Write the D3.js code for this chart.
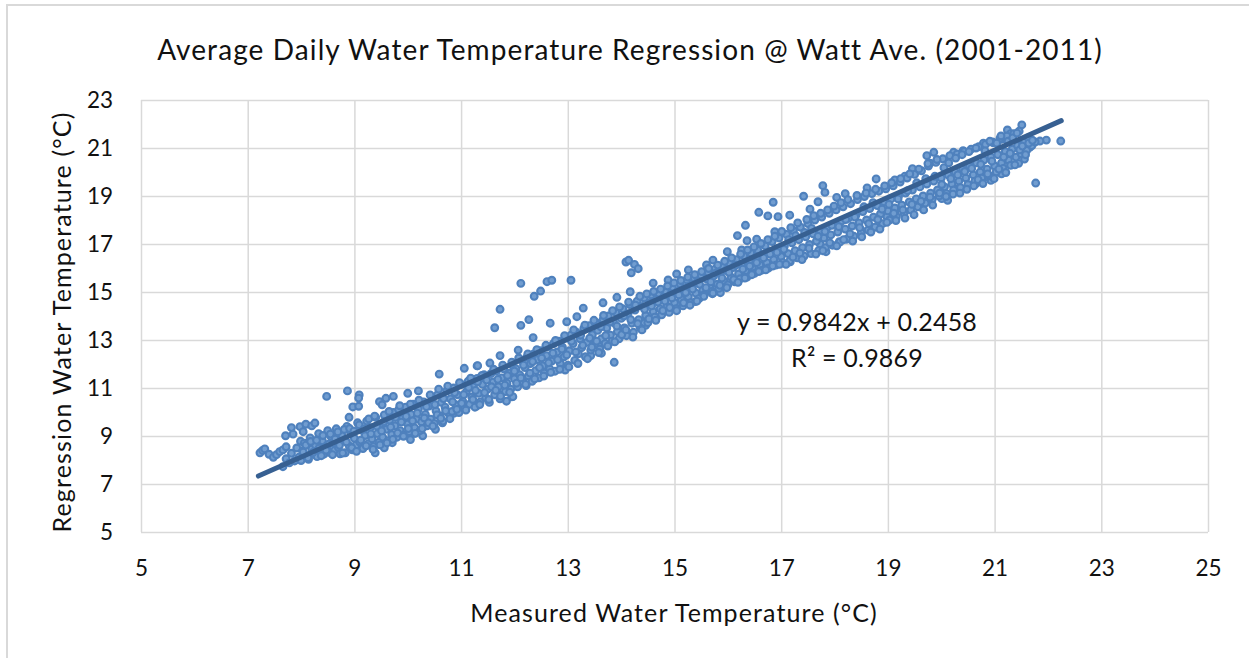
<!DOCTYPE html>
<html lang="en">
<head>
<meta charset="UTF-8">
<title>Average Daily Water Temperature Regression</title>
<script src="https://d3js.org/d3.v7.min.js"></script>
<style>
    body { margin: 0; background: #fff; overflow: hidden; }
    text { font-family: Lato, sans-serif; fill: #111; }
    .grid line { stroke: #d9d9d9; stroke-width: 1.5px; }
    .grid path { display: none; }
    .labels path, .labels line { display: none; }
    .labels text { font-family: Lato, sans-serif; font-size: 22.5px; fill: #111; }
</style>
</head>
<body>
<div id="chart"></div>
<script>
    const chartTitle = "Average Daily Water Temperature Regression @ Watt Ave. (2001-2011)";
    const xTitle = "Measured Water Temperature (°C)";
    const yTitle = "Regression Water Temperature (°C)";
    const fitLabels = ["y = 0.9842x + 0.2458", "R² = 0.9869"];

    const xTicks = [5, 7, 9, 11, 13, 15, 17, 19, 21, 23, 25];
    const yTicks = [5, 7, 9, 11, 13, 15, 17, 19, 21, 23];

    // ends of the fitted line
    const fitLine = [[7.2, 7.33], [22.25, 22.14]];

    // points that stand clear of the band, read one by one
    const strayPoints = [
        [7.23,8.30],[7.28,8.40],[7.32,8.46],[7.4,8.24],[7.48,8.11],[7.54,8.22],[7.6,8.35],[7.66,8.42],[7.72,8.55],
        [7.71,9.01],[7.82,9.35],[7.85,9.08],[7.98,9.39],[8.09,9.49],[8.04,9.18],[7.99,8.78],[8.2,9.42],[8.26,9.54],
        [8.48,10.65],[8.87,10.88],[9.09,10.71],[9.08,10.58],[8.97,10.21],[9.08,10.24],[8.9,9.78],[9.47,10.43],
        [9.59,10.57],[9.73,10.65],[9.52,10.3],[10,10.78],[10.2,10.88],[10.59,11.58],[11.06,11.82],[11.3,11.92],
        [9.39,8.30],[9.56,8.51],[9.71,8.72],[10.05,8.85],[10.12,9.11],[10.28,9.01],[10.52,9.28],[10.65,9.55],
        [10.87,9.95],[11.29,10.25],[11.95,10.63],[11.7,10.75],[11.85,10.45],
        [12.12,15.36],[11.73,14.28],[11.63,13.51],[12.12,13.61],[12.27,13.85],[12.37,14.82],[12.49,15.04],
        [12.61,15.43],[12.7,15.49],[13.06,15.49],[14.09,16.25],[14.14,16.32],[14.25,16.15],[14.32,15.97],[14.19,15.8],
        [12.22,11.1],[13.87,12.07],[13.43,12.35],[13.63,12.45],[14.46,13.61],[14.66,13.94],[15.39,14.6],[15.71,14.93],
        [15.86,14.97],[15.95,15.21],[16.33,17.78],[16.18,17.35],[16.58,18.32],[16.75,18.17],[16.85,18.74],
        [15.99,16.68],[16.36,17.14],[17.42,18.99],[17.78,19.43],[17.82,19.15],[17.84,16.68],[18.84,17.67],[18.78,19.71],
        [19.46,20.14],[19.73,20.68],[19.86,20.82],[19.32,18.35],[19.58,18.62],[20.12,18.82],[20.01,18.89],[20.28,19.28],
        [20.64,19.5],[20.93,19.65],[21.13,19.92],[21.22,20.36],[21.45,20.36],[21.56,20.54],[21.77,19.54],[22.24,21.29],
        [21.97,21.33],[21.85,21.29],[21.66,21.03],[21.51,21.96],[21.24,21.75],[21.3,21.6],[21.13,21.36],[20.79,21.2],[20.23,20.82]
    ];

    // points along the upper and lower edge of the band
    const edgePoints = [
        [11.31,11.93],[11.54,12.04],[11.73,12.35],[12.07,12.58],[12.35,13.1],[12.67,13.7],[12.98,13.76],[13.17,13.97],[13.29,14.33],
        [13.66,14.55],[13.92,14.78],[14.17,15.01],[14.6,15.37],[14.88,15.5],[15.04,15.75],[15.26,15.92],[15.6,16.13],[15.72,16.33],
        [16.26,16.75],[16.54,17.2],[16.88,17.51],[16.94,18.14],[17.16,18.2],[17.54,18.45],[17.69,18.76],[18.04,18.94],[18.2,19.1],
        [18.61,19.34],[19.13,19.67],[19.32,19.83],[19.79,20.37],[20.41,20.89],[20.97,21.22],
        [11.97,10.64],[12.57,11.68],[12.95,11.75],[13.6,12.72],[13.98,13.14],[14.41,13.7],[15.1,14.53],[15.54,14.96],[16.1,15.5],
        [16.29,15.62],[16.79,16.12],[17.17,16.26],[17.37,16.47],[17.73,17.0],[18.09,17.1],[18.5,17.58],[18.98,18.14],[19.13,18.35],
        [19.79,18.9],[20.85,19.8]
    ];

    // the dense band along the line, estimated strip by strip
    const bandPoints = [
        [7.66,7.72],[7.72,8.05],[7.78,7.88],[7.82,8.28],[7.88,7.96],[7.92,8.5],[7.96,8.12],[8.0,7.98],[8.03,8.38],[8.06,8.7],
        [8.1,8.18],[8.14,8.03],[8.17,8.92],[8.2,8.45],[8.24,8.24],[8.27,8.62],[8.3,8.14],[8.33,9.1],[8.36,8.36],[8.4,8.8],
        [8.43,8.25],[8.46,8.55],[8.5,9.22],[8.53,8.32],[8.56,8.98],[8.6,8.7],[8.63,8.4],[8.66,9.3],[8.7,8.52],[8.73,8.26],
        [8.76,9.05],[8.8,8.8],[8.83,8.3],[8.86,9.4],[8.9,8.6],[8.93,9.15],[8.96,8.42],[9.0,8.9],[9.03,8.62],[9.06,9.55],
        [9.1,8.75],[9.13,9.25],[9.16,8.48],[9.2,9.02],[9.23,9.62],[9.26,8.68],[9.3,9.35],[9.33,8.88],[9.36,8.56],[9.4,9.78],
        [9.43,9.1],[9.46,8.74],[9.5,9.5],[9.53,8.95],[9.56,9.88],[9.6,9.28],[9.63,8.8],[9.66,9.66],[9.7,9.06],[9.73,9.98],
        [9.76,9.42],[9.8,8.95],[9.83,10.1],[9.86,9.22],[9.9,9.72],[9.93,9.05],[9.96,10.2],[10.0,9.5],[10.03,9.18],[10.06,9.9],
        [10.1,10.32],[10.13,9.34],[10.16,9.7],[10.2,10.12],[10.23,9.22],[10.26,9.58],[10.3,10.42],[10.33,9.9],[10.36,9.42],
        [10.4,10.25],[10.43,9.7],[10.46,10.6],[10.5,9.52],[10.53,10.05],[10.56,10.72],[10.6,9.85],[10.63,10.4],[10.66,9.62],
        [10.7,10.2],[10.73,10.88],[10.76,9.95],[10.8,10.55],[10.83,10.02],[10.86,11.0],[10.9,10.3],[10.93,10.72],[10.96,9.98],
        [11.0,11.15],[11.03,10.45],[11.06,10.15],[11.1,10.85],[11.13,11.28],[11.16,10.32],[11.2,10.62],[11.23,11.05],[11.26,10.2],
        [11.3,11.4],[11.33,10.78],[11.36,10.42],[11.4,11.15],[11.43,11.55],[11.46,10.6],[11.5,10.95],[11.53,10.4],[11.56,11.6],
        [11.6,11.25],[11.63,10.72],[11.66,11.7],[11.7,11.05],[11.73,10.55],[11.76,11.42],[11.8,11.8],[11.83,10.85],[11.86,11.2],
        [11.9,11.62],[11.93,10.95],[11.96,11.95],[12.0,11.38],[12.03,11.8],[12.06,11.05],[12.1,11.55],[12.13,12.15],[12.16,11.25],
        [12.2,11.85],[12.23,12.28],[12.26,11.5],[12.3,12.02],[12.33,11.28],[12.36,12.42],[12.4,11.72],[12.43,12.18],[12.46,11.42],
        [12.5,12.55],[12.53,11.92],[12.56,11.62],[12.6,12.35],[12.63,12.72],[12.66,11.8],[12.7,12.12],[12.73,12.85],[12.76,11.7],
        [12.8,12.5],[12.83,12.95],[12.86,12.02],[12.9,12.7],[12.93,12.3],[12.96,13.08],[13.0,11.95],[13.03,12.55],[13.06,13.2],
        [13.1,12.85],[13.13,12.15],[13.16,13.32],[13.2,12.42],[13.23,13.05],[13.26,12.68],[13.3,13.48],[13.33,12.3],[13.36,12.9],
        [13.4,13.6],[13.43,12.58],[13.46,13.22],[13.5,12.8],[13.53,13.72],[13.56,13.4],[13.6,12.62],[13.63,13.05],[13.66,13.85],
        [13.7,12.85],[13.73,13.5],[13.76,14.0],[13.8,13.2],[13.83,12.95],[13.86,13.72],[13.9,14.15],[13.93,13.35],[13.96,13.05],
        [14.0,13.9],[14.03,14.3],[14.06,13.5],[14.1,13.18],[14.13,14.1],[14.16,14.48],[14.2,13.7],[14.23,13.32],[14.26,14.25],
        [14.3,14.62],[14.33,13.85],[14.36,13.5],[14.4,14.4],[14.43,14.75],[14.46,14.02],[14.5,13.72],[14.53,14.55],[14.56,14.88],
        [14.6,14.18],[14.63,13.95],[14.66,14.68],[14.7,14.95],[14.73,14.3],[14.76,14.05],[14.8,14.8],[14.83,15.05],[14.86,14.42],
        [14.9,14.15],[14.93,14.9],[14.96,15.2],[15.0,14.55],[15.03,14.3],[15.06,15.02],[15.1,15.35],[15.13,14.68],[15.16,14.42],
        [15.2,15.15],[15.23,15.5],[15.26,14.8],[15.3,14.55],[15.33,15.28],[15.36,15.6],[15.4,14.95],[15.43,15.4],[15.46,14.72],
        [15.5,15.7],[15.53,15.08],[15.56,14.9],[15.6,15.55],[15.63,15.82],[15.66,15.2],[15.7,15.02],[15.73,15.66],[15.76,15.95],
        [15.8,15.32],[15.83,15.15],[15.86,15.78],[15.9,16.08],[15.93,15.45],[15.96,15.9],[16.0,15.3],[16.03,16.2],[16.06,15.62],
        [16.1,16.02],[16.13,15.42],[16.16,16.35],[16.2,15.75],[16.23,15.55],[16.26,16.15],[16.3,16.5],[16.33,15.88],[16.36,15.62],
        [16.4,16.28],[16.43,16.62],[16.46,16.0],[16.5,15.78],[16.53,16.42],[16.56,16.75],[16.6,16.12],[16.63,15.9],[16.66,16.55],
        [16.7,16.92],[16.73,16.22],[16.76,16.0],[16.8,16.68],[16.83,17.1],[16.86,16.35],[16.9,16.12],[16.93,16.8],[16.96,17.25],
        [17.0,16.48],[17.03,16.22],[17.06,16.92],[17.1,17.4],[17.13,16.6],[17.16,16.3],[17.2,17.05],[17.23,17.55],[17.26,16.72],
        [17.3,16.42],[17.33,17.18],[17.36,17.7],[17.4,16.85],[17.43,16.5],[17.46,17.3],[17.5,17.85],[17.53,16.98],[17.56,16.6],
        [17.6,17.42],[17.63,18.0],[17.66,17.12],[17.7,16.72],[17.73,17.55],[17.76,18.12],[17.8,17.25],[17.83,16.85],[17.86,17.68],
        [17.9,18.28],[17.93,17.38],[17.96,16.95],[18.0,17.82],[18.03,18.42],[18.06,17.5],[18.1,17.08],[18.13,17.95],[18.16,18.55],
        [18.2,17.62],[18.23,17.2],[18.26,18.08],[18.3,18.68],[18.33,17.75],[18.36,17.32],[18.4,18.2],[18.43,18.85],[18.46,17.88],
        [18.5,17.45],[18.53,18.35],[18.56,18.98],[18.6,18.0],[18.63,17.58],[18.66,18.48],[18.7,19.1],[18.73,18.12],[18.76,17.7],
        [18.8,18.6],[18.83,19.2],[18.86,18.25],[18.9,17.85],[18.93,18.75],[18.96,19.3],[19.0,18.38],[19.03,18.0],[19.06,18.88],
        [19.1,19.42],[19.13,18.5],[19.16,18.15],[19.2,19.0],[19.23,19.58],[19.26,18.62],[19.3,18.28],[19.33,19.12],[19.36,19.75],
        [19.4,18.75],[19.43,18.42],[19.46,19.25],[19.5,19.9],[19.53,18.88],[19.56,18.55],[19.6,19.38],[19.63,20.05],[19.66,19.0],
        [19.7,18.7],[19.73,19.5],[19.76,20.25],[19.8,19.12],[19.83,18.85],[19.86,19.62],[19.9,20.4],[19.93,19.25],[19.96,19.0],
        [20.0,19.75],[20.03,20.55],[20.06,19.38],[20.1,19.1],[20.13,19.88],[20.16,20.68],[20.2,19.5],[20.23,19.25],[20.26,20.0],
        [20.3,20.75],[20.33,19.62],[20.36,19.35],[20.4,20.12],[20.43,20.85],[20.46,19.75],[20.5,19.48],[20.53,20.25],[20.56,20.95],
        [20.6,19.88],[20.63,19.62],[20.66,20.38],[20.7,21.05],[20.73,20.0],[20.76,19.75],[20.8,20.5],[20.83,21.15],[20.86,20.12],
        [20.9,19.85],[20.93,20.62],[20.96,21.25],[21.0,20.25],[21.03,20.0],[21.06,20.72],[21.1,21.4],[21.13,20.38],[21.16,20.15],
        [21.2,20.85],[21.23,21.5],[21.26,20.5],[21.3,20.28],[21.33,20.95],[21.36,21.6],[21.4,20.62],[21.43,21.1],[21.46,21.7],
        [21.5,20.75],[21.53,21.2],[21.56,21.3],[21.6,20.9],[21.63,21.42],[21.7,21.1],[21.76,21.25]
    ];

    // second pass over the band, the uneven scatter and the bumps on its edges
    const bandScatter = [
        [8.04,8.33],[8.09,8.62],[8.13,8.09],[8.18,8.77],[8.22,8.31],[8.29,8.82],[8.34,8.5],[8.38,8.18],[8.41,9.02],[8.47,8.41],
        [8.52,8.66],[8.55,9.08],[8.59,8.22],[8.64,8.87],[8.69,9.17],[8.72,8.61],[8.78,8.29],[8.81,9.27],[8.85,8.75],[8.91,9.31],
        [8.95,8.51],[8.99,9.2],[9.04,8.36],[9.09,9.46],[9.12,8.83],[9.18,9.3],[9.22,8.59],[9.27,9.71],[9.31,9.09],[9.35,8.44],
        [9.38,9.83],[9.42,9.41],[9.48,8.63],[9.51,9.21],[9.55,9.59],[9.61,8.71],[9.65,10.02],[9.68,9.37],[9.72,8.86],[9.77,9.77],
        [9.81,9.12],[9.85,10.26],[9.88,9.58],[9.92,8.99],[9.97,9.82],[10.01,9.31],[10.05,10.33],[10.09,9.63],[10.14,9.11],[10.18,9.95],
        [10.21,10.49],[10.27,9.31],[10.31,9.75],[10.35,10.22],[10.39,9.55],[10.42,10.71],[10.47,9.41],[10.51,10.31],[10.55,9.88],[10.58,10.95],
        [10.62,9.74],[10.67,10.56],[10.71,10.05],[10.75,11.08],[10.79,9.72],[10.84,10.42],[10.88,10.81],[10.92,10.11],[10.97,11.22],[11.01,10.36],
        [11.05,10.72],[11.09,10.08],[11.14,11.02],[11.18,11.41],[11.22,10.52],[11.27,10.9],[11.31,11.26],[11.35,10.31],[11.39,11.52],[11.44,10.81],
        [11.48,11.33],[11.52,10.52],[11.57,11.05],[11.61,11.78],[11.65,10.9],[11.69,11.36],[11.74,10.66],[11.78,11.95],[11.82,11.12],[11.87,11.52],
        [11.91,10.82],[11.95,12.08],[12.0,11.7],[12.04,11.2],[12.08,12.25],[12.12,11.42],[12.17,11.95],[12.21,11.15],[12.25,12.42],[12.29,11.62],
        [12.34,12.1],[12.38,11.38],[12.42,12.6],[12.47,11.85],[12.51,12.25],[12.55,11.5],[12.59,12.78],[12.64,12.05],[12.68,11.65],[12.72,12.45],
        [12.77,12.98],[12.81,12.18],[12.85,11.78],[12.89,12.62],[12.94,13.18],[12.98,12.38],[13.02,11.88],[13.07,12.95],[13.11,13.42],[13.15,12.5],
        [13.19,12.02],[13.24,13.2],[13.28,12.78],[13.32,13.62],[13.37,12.22],[13.41,13.08],[13.45,12.7],[13.49,13.82],[13.54,12.95],[13.58,12.48],
        [13.62,13.55],[13.67,14.02],[13.71,13.18],[13.75,12.75],[13.79,13.75],[13.84,14.22],[13.88,12.92],[13.92,13.58],[13.97,14.38],[14.01,13.22],
        [14.05,14.0],[14.09,13.42],[14.14,14.58],[14.18,13.85],[14.22,13.12],[14.27,14.45],[14.31,13.68],[14.35,14.82],[14.39,13.42],[14.44,14.28],
        [14.48,14.92],[14.52,13.88],[14.57,14.42],[14.61,15.02],[14.65,13.82],[14.69,14.58],[14.74,15.12],[14.78,14.22],[14.82,14.62],[14.87,15.25],
        [14.91,14.35],[14.95,14.75],[14.99,15.38],[15.04,14.22],[15.08,14.88],[15.12,15.48],[15.17,14.55],[15.21,14.98],[15.25,15.62],[15.29,14.45],
        [15.34,15.12],[15.38,15.72],[15.42,14.62],[15.47,15.32],[15.51,15.85],[15.55,14.82],[15.59,15.18],[15.64,15.98],[15.68,15.42],[15.72,14.95],
        [15.77,15.78],[15.81,16.12],[15.85,15.28],[15.89,15.58],[15.94,16.28],[15.98,15.18],[16.02,15.82],[16.07,16.42],[16.11,15.52],[16.15,16.12],
        [16.19,15.4],[16.24,16.58],[16.28,15.95],[16.32,15.58],[16.37,16.75],[16.41,16.08],[16.45,15.72],[16.49,16.88],[16.54,16.22],[16.58,15.85],
        [16.62,17.02],[16.67,16.42],[16.71,15.92],[16.75,17.18],[16.79,16.58],[16.84,16.08],[16.88,17.32],[16.92,16.65],[16.97,16.15],[17.01,17.52],
        [17.05,16.78],[17.09,16.15],[17.14,17.18],[17.18,17.68],[17.22,16.45],[17.27,17.35],[17.31,17.88],[17.35,16.62],[17.39,16.35],[17.44,17.48],
        [17.48,18.02],[17.52,16.82],[17.57,17.65],[17.61,18.18],[17.65,16.58],[17.69,17.32],[17.74,18.28],[17.78,16.72],[17.82,17.52],[17.87,18.42],
        [17.91,17.05],[17.95,17.78],[17.99,18.58],[18.04,16.92],[18.08,17.72],[18.12,18.72],[18.17,17.18],[18.21,18.02],[18.25,18.85],[18.29,17.42],
        [18.34,17.12],[18.38,18.12],[18.42,19.02],[18.47,17.68],[18.51,17.3],[18.55,18.55],[18.59,19.12],[18.64,17.85],[18.68,17.5],[18.72,18.72],
        [18.77,19.28],[18.81,18.02],[18.85,17.62],[18.89,18.45],[18.94,19.42],[18.98,17.9],[19.02,18.65],[19.07,19.55],[19.11,18.28],[19.15,17.98],
        [19.19,18.88],[19.24,19.72],[19.28,18.42],[19.32,18.08],[19.37,19.22],[19.41,19.92],[19.45,18.65],[19.49,18.22],[19.54,19.55],[19.58,20.12],
        [19.62,18.78],[19.67,18.42],[19.71,19.72],[19.75,20.35],[19.79,18.95],[19.84,18.62],[19.88,19.82],[19.92,20.52],[19.97,19.12],[20.01,19.48],
        [20.05,20.18],[20.09,18.98],[20.14,20.38],[20.18,19.72],[20.22,19.08],[20.27,20.58],[20.31,19.88],[20.35,19.12],[20.39,20.72],[20.44,20.02],
        [20.48,19.28],[20.52,20.85],[20.57,20.15],[20.61,19.42],[20.65,21.0],[20.69,19.68],[20.74,20.32],[20.78,19.52],[20.82,20.88],[20.87,19.92],
        [20.91,21.28],[20.95,20.45],[20.99,19.72],[21.04,21.2],[21.08,20.12],[21.12,21.5],[21.17,20.62],[21.21,19.98],[21.25,21.28],[21.29,20.78],
        [21.34,21.42],[21.38,20.3],[21.42,21.62],[21.47,20.92],[21.52,21.08],[21.58,20.72],[21.64,21.2],[21.71,21.32]
    ];

    const waterPoints = strayPoints.concat(edgePoints, bandPoints, bandScatter);

    const width = 1249;
    const height = 658;
    const margin = { top: 100, right: 41, bottom: 126, left: 141 };

    const svg = d3.select("#chart").append("svg")
        .attr("width", width)
        .attr("height", height)
        .style("display", "block");

    // chart area border, only left and top show in the screenshot
    svg.append("path")
        .attr("d", `M7,${height}V5H${width}`)
        .attr("fill", "none")
        .attr("stroke", "#d9d9d9")
        .attr("stroke-width", 2);

    const x = d3.scaleLinear().domain([5, 25]).range([margin.left, width - margin.right]);
    const y = d3.scaleLinear().domain([5, 23]).range([height - margin.bottom, margin.top]);

    // gridlines
    svg.append("g").attr("class", "grid")
        .attr("transform", `translate(0,${margin.top})`)
        .call(d3.axisBottom(x).tickValues(xTicks).tickSize(y.range()[0] - margin.top).tickFormat(""));
    svg.append("g").attr("class", "grid")
        .attr("transform", `translate(${margin.left},0)`)
        .call(d3.axisRight(y).tickValues(yTicks).tickSize(x.range()[1] - margin.left).tickFormat(""));

    // tick labels
    svg.append("g").attr("class", "labels")
        .attr("transform", `translate(0,${y(5) + 36})`)
        .call(d3.axisBottom(x).tickValues(xTicks).tickSize(0).tickPadding(0).tickFormat(d3.format("d")))
        .selectAll("text").attr("dy", "0").attr("y", 8);
    svg.append("g").attr("class", "labels")
        .attr("transform", `translate(113,0)`)
        .call(d3.axisLeft(y).tickValues(yTicks).tickSize(0).tickPadding(0).tickFormat(d3.format("d")));

    // points
    svg.append("g").selectAll("circle")
        .data(waterPoints)
        .join("circle")
        .attr("cx", d => x(d[0]))
        .attr("cy", d => y(d[1]))
        .attr("r", 3.4)
        .attr("fill", "#719dd0")
        .attr("stroke", "#4f81bd")
        .attr("stroke-width", 2.1);

    // trendline
    svg.append("path")
        .attr("d", d3.line().x(d => x(d[0])).y(d => y(d[1]))(fitLine))
        .attr("fill", "none")
        .attr("stroke", "#376092")
        .attr("stroke-width", 5)
        .attr("stroke-linecap", "round");

    // titles
    svg.append("text")
        .attr("x", 630).attr("y", 60)
        .attr("text-anchor", "middle")
        .attr("font-size", 28)
        .attr("letter-spacing", 1.1)
        .text(chartTitle);
    svg.append("text")
        .attr("x", 674).attr("y", 622)
        .attr("text-anchor", "middle")
        .attr("font-size", 25)
        .attr("letter-spacing", 1.1)
        .text(xTitle);
    svg.append("text")
        .attr("transform", "translate(71,322) rotate(-90)")
        .attr("text-anchor", "middle")
        .attr("font-size", 25)
        .attr("letter-spacing", 1.15)
        .text(yTitle);

    // regression equation
    svg.selectAll("text.fit")
        .data(fitLabels)
        .join("text")
        .attr("class", "fit")
        .attr("x", 857)
        .attr("y", (d, i) => 331 + i * 36)
        .attr("text-anchor", "middle")
        .attr("font-size", 25)
        .attr("letter-spacing", 0.2)
        .text(d => d);
</script>
</body>
</html>
